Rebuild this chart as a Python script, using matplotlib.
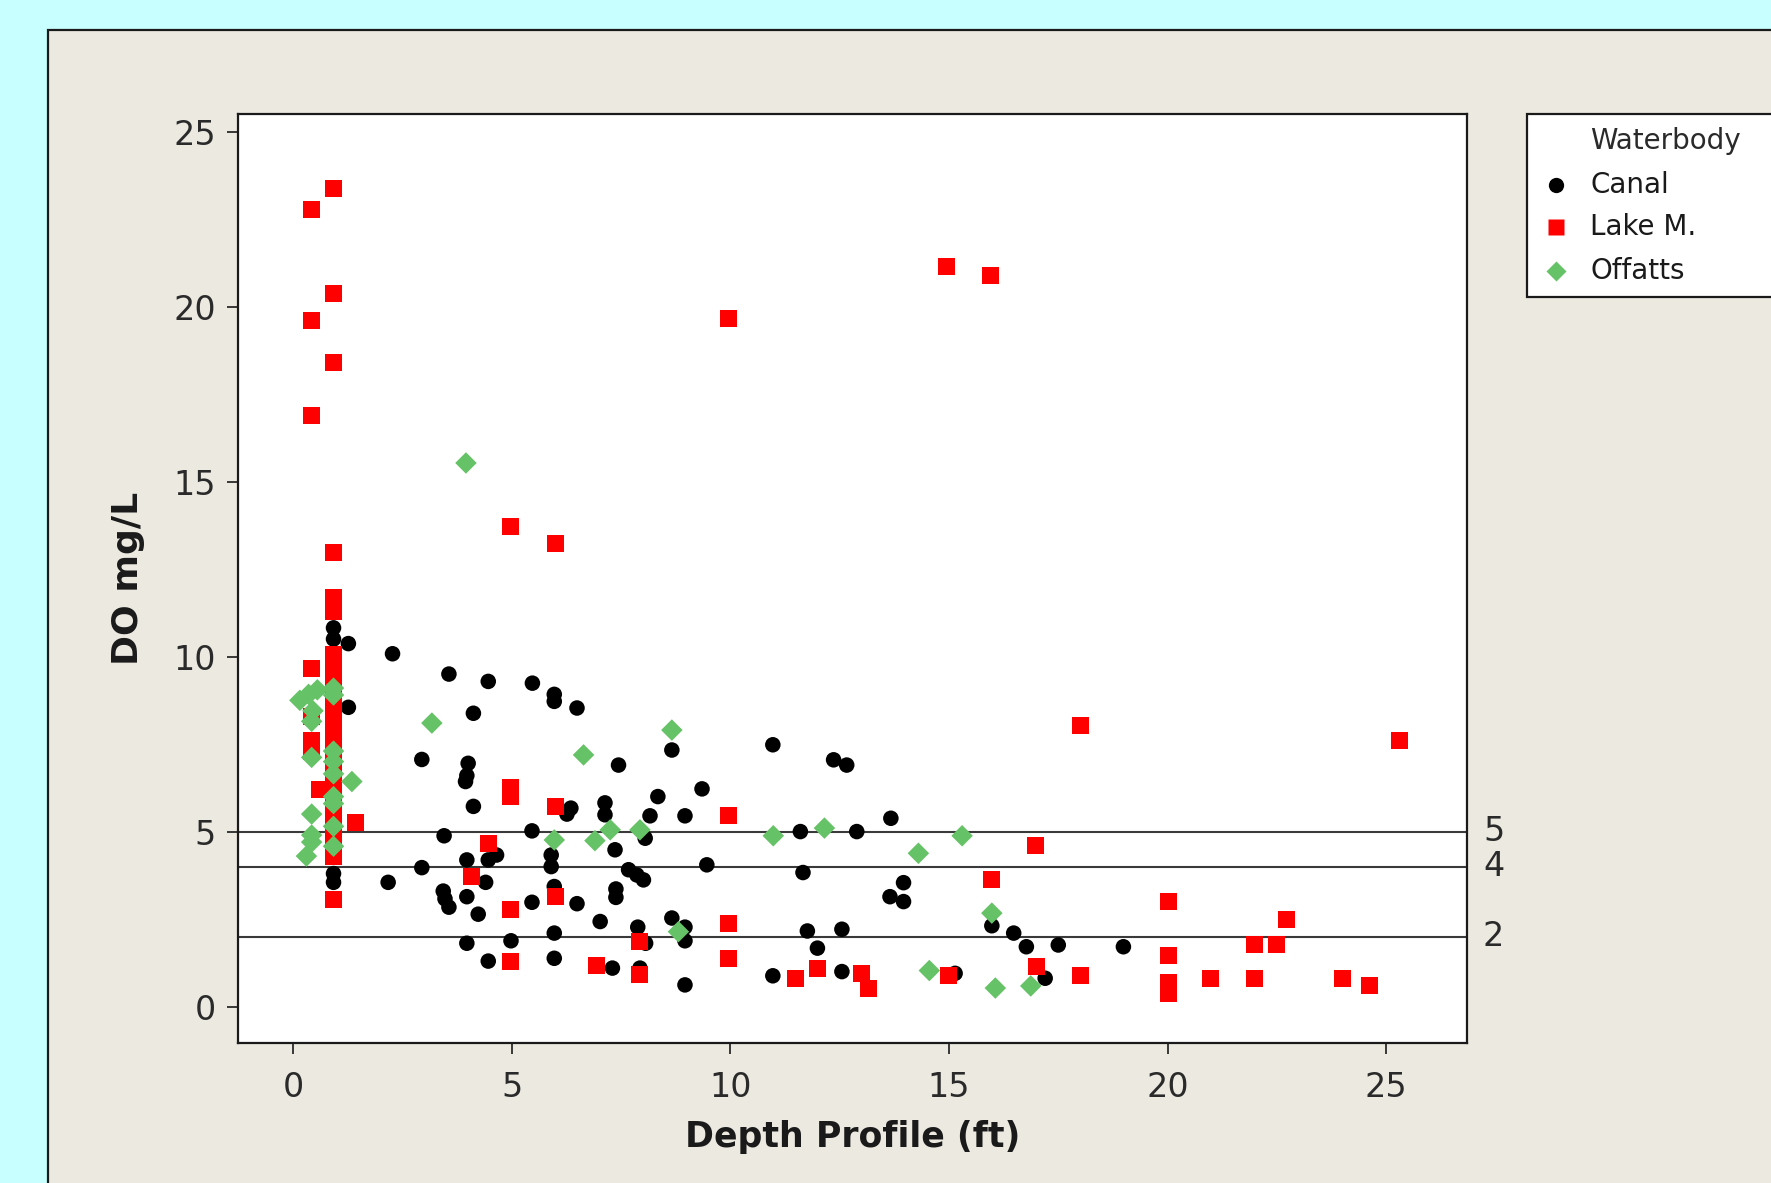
import matplotlib
matplotlib.use("Agg")
import matplotlib.pyplot as plt
from matplotlib.patches import Rectangle
from matplotlib.lines import Line2D

# ---------------- data ----------------
canal_x = [0.92, 0.92, 0.92, 0.92, 1.26, 1.26, 2.27, 2.17, 2.94, 2.94, 3.45,
           3.43, 3.47, 3.56, 3.56, 3.97, 3.97, 3.97, 4.0, 3.97, 3.94, 4.12, 4.12,
           4.23, 4.46, 4.46, 4.65, 4.4, 4.46, 4.98, 5.47, 5.46, 5.46, 5.97, 5.97,
           5.9, 5.9, 5.97, 5.97, 5.97, 6.49, 6.35, 6.26, 6.49, 7.13, 7.13, 7.36,
           7.02, 7.3, 7.44, 7.67, 7.86, 8.01, 7.38, 7.38, 7.88, 8.06, 7.93, 8.05,
           8.16, 8.34, 8.66, 8.66, 8.96, 8.96, 8.96, 8.96, 9.35, 9.46, 10.97, 11.6,
           12.89, 13.67, 12.36, 12.66, 11.66, 13.96, 13.65, 13.96, 11.76, 12.55,
           11.99, 10.97, 12.55, 15.14, 15.98, 16.48, 16.77, 17.5, 18.99, 17.2]
canal_y = [10.82, 10.5, 3.8, 3.55, 10.37, 8.55, 10.08, 3.55, 7.06, 3.97, 4.88,
           3.3, 3.08, 2.84, 9.5, 3.14, 4.19, 1.81, 6.95, 6.6, 6.43, 8.38, 5.72,
           2.64, 9.29, 4.19, 4.33, 3.55, 1.3, 1.88, 9.24, 5.02, 2.98, 8.92, 8.72,
           4.33, 4.0, 3.43, 2.1, 1.38, 8.53, 5.67, 5.5, 2.94, 5.82, 5.48, 4.48,
           2.43, 1.1, 6.9, 3.91, 3.76, 3.62, 3.36, 3.12, 2.27, 1.81, 1.1, 4.81,
           5.45, 6.0, 7.33, 2.53, 5.45, 2.27, 1.88, 0.62, 6.22, 4.05, 7.48, 5.0,
           5.0, 5.38, 7.05, 6.9, 3.83, 3.54, 3.14, 3.0, 2.16, 2.21,
           1.67, 0.88, 1.0, 0.95, 2.31, 2.1, 1.71, 1.76, 1.71, 0.81]

lake_x = [0.42, 0.42, 0.42, 0.42, 0.42, 0.42, 0.42, 0.6,
          0.92, 0.92, 0.92, 0.92, 0.92, 0.92, 0.92, 0.92, 0.92, 0.92, 0.92,
          0.92, 0.92, 0.92, 0.92, 0.92, 0.92, 0.92, 0.92, 0.92, 0.92, 0.92, 0.92,
          1.43, 4.08, 4.46, 4.96, 4.96, 4.96, 4.96, 4.96, 6.0, 6.0, 6.0, 6.94,
          7.93, 7.93, 9.95, 9.95, 9.95, 9.95, 11.48, 11.99, 13.0, 13.16, 14.95,
          14.99, 15.96, 15.98, 16.99, 17.0, 18.0, 18.0, 20.02, 20.02, 20.02, 20.02,
          20.98, 21.98, 21.98, 22.49, 22.72, 24.0, 24.62, 25.3]
lake_y = [22.76, 19.6, 16.88, 9.65, 8.3, 7.6, 7.3, 6.2,
          23.38, 20.38, 18.41, 12.98, 11.7, 11.3, 10.05, 9.65, 9.25, 8.85, 8.45,
          8.05, 7.65, 7.25, 6.85, 6.45, 6.05, 5.65, 5.25, 4.85, 4.45, 4.3, 3.07,
          5.25, 3.71, 4.67, 13.71, 6.27, 6.0, 2.77, 1.3, 13.24, 5.72, 3.15, 1.17,
          1.87, 0.91, 19.67, 5.45, 2.36, 1.38, 0.81, 1.1, 0.95, 0.53, 21.15,
          0.88, 20.89, 3.62, 4.59, 1.14, 8.04, 0.88, 2.99, 1.45, 0.69, 0.38,
          0.81, 1.76, 0.81, 1.76, 2.5, 0.81, 0.6, 7.6]

offatts_x = [0.15, 0.35, 0.55, 0.45, 0.42, 0.42, 0.42, 0.42, 0.42, 0.3,
             0.92, 0.92, 0.92, 0.92, 0.92, 0.92, 0.92, 0.92, 0.92,
             1.34, 3.17, 3.95, 5.97, 6.64, 6.9, 7.25, 7.93, 8.66, 8.81, 10.98,
             12.15, 14.3, 15.3, 14.55, 15.98, 16.06, 16.87]
offatts_y = [8.75, 8.92, 9.05, 8.45, 8.15, 7.12, 5.5, 4.9, 4.7, 4.3,
             9.1, 8.9, 7.3, 7.0, 6.65, 6.0, 5.8, 5.15, 4.58,
             6.43, 8.1, 15.53, 4.76, 7.19, 4.74, 5.05, 5.05, 7.9, 2.14, 4.88,
             5.1, 4.38, 4.88, 1.03, 2.67, 0.53, 0.59]

series_names = ["Canal", "Lake M.", "Offatts"]
ref_levels = [5, 4, 2]
x_ticks = [0, 5, 10, 15, 20, 25]
y_ticks = [0, 5, 10, 15, 20, 25]

# ---------------- figure ----------------
W, H = 1771, 1183
fig = plt.figure(figsize=(W / 100, H / 100), dpi=100)
fig.patch.set_facecolor("#C8FFFF")

def fx(px):
    return px / W

def fy(py):
    return 1 - py / H

# panel
panel = Rectangle((fx(48), -0.1), 1.2, fy(30) + 0.1, transform=fig.transFigure,
                  facecolor="#ECE9E1", edgecolor="#1a1a1a", linewidth=1.6,
                  zorder=-10)
fig.add_artist(panel)

L, R, T, B = 238, 1467, 114, 1043
ax = fig.add_axes([fx(L), fy(B), fx(R) - fx(L), fy(T) - fy(B)])
ax.set_zorder(1)
ax.set_facecolor("white")

colors = ["black", "#FF0000", "#66C266"]
markers = ["o", "s", "D"]
sizes = [125, 150, 120]

ax.scatter(canal_x, canal_y, s=sizes[0], marker=markers[0], color=colors[0],
           edgecolors="none", zorder=3)
ax.scatter(lake_x, lake_y, s=sizes[1], marker=markers[1], color=colors[1],
           edgecolors="none", zorder=4)
ax.scatter(offatts_x, offatts_y, s=sizes[2], marker=markers[2], color=colors[2],
           edgecolors="none", zorder=5)

for lv in ref_levels:
    ax.axhline(lv, color="#3a3a3a", linewidth=1.5, zorder=2)
    ax.text(1.013, lv, str(lv), transform=ax.get_yaxis_transform(),
            ha="left", va="center", fontsize=24, color="#2a2a2a",
            family="DejaVu Sans", clip_on=False)

ax.set_xlim(-1.265, 26.85)
ax.set_ylim(-1.04, 25.5)
ax.set_xticks(x_ticks)
ax.set_yticks(y_ticks)
ax.tick_params(axis="both", direction="out", length=8, width=1.3,
               labelsize=24, labelcolor="#2a2a2a", color="#2a2a2a")
ax.tick_params(axis="x", pad=12)
ax.tick_params(axis="y", pad=8)
for sp in ax.spines.values():
    sp.set_linewidth(1.6)
    sp.set_color("#1a1a1a")

ax.set_xlabel("Depth Profile (ft)", fontsize=25, fontweight="bold",
              color="#1a1a1a", labelpad=12)
ax.set_ylabel("DO mg/L", fontsize=26, fontweight="bold", color="#1a1a1a",
              labelpad=20)

# legend (drawn by hand so it can run off the right edge like the reference)
leg_box = Rectangle((fx(1527), fy(297)), 0.3, fy(114) - fy(297),
                    transform=fig.transFigure, facecolor="white",
                    edgecolor="#1a1a1a", linewidth=1.6, zorder=6)
fig.add_artist(leg_box)
fig.text(fx(1590), fy(141), "Waterbody", ha="left", va="center", fontsize=20,
         color="#2a2a2a", zorder=7)
rows_y = [185, 227, 271]
for name, c, m, yy in zip(series_names, colors, markers, rows_y):
    ms = {"o": 11, "s": 11, "D": 10}[m]
    fig.add_artist(Line2D([fx(1556)], [fy(yy)], marker=m, markersize=ms,
                          color=c, markeredgecolor="none", linestyle="none",
                          transform=fig.transFigure, zorder=7))
    fig.text(fx(1590), fy(yy), name, ha="left", va="center", fontsize=20,
             color="#1a1a1a", zorder=7)

fig.savefig("out.png", dpi=100, facecolor=fig.get_facecolor())
